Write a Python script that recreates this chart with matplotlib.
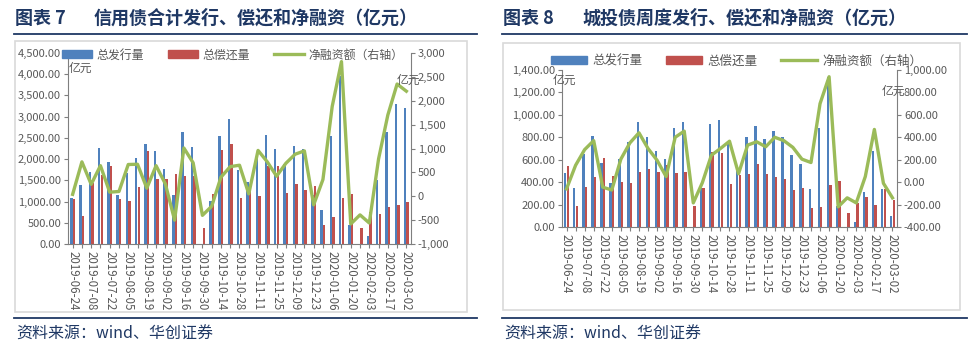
import matplotlib.pyplot as plt
from matplotlib.patches import Rectangle, Patch
from matplotlib.lines import Line2D
from matplotlib.ticker import FuncFormatter
import numpy as np

plt.rcParams['font.family'] = ['Noto Sans CJK SC', 'DejaVu Sans']
plt.rcParams['axes.unicode_minus'] = False

weeks = ['2019-06-24', '2019-07-01', '2019-07-08', '2019-07-15', '2019-07-22', '2019-07-29',
         '2019-08-05', '2019-08-12', '2019-08-19', '2019-08-26', '2019-09-02', '2019-09-09',
         '2019-09-16', '2019-09-23', '2019-09-30', '2019-10-07', '2019-10-14', '2019-10-21',
         '2019-10-28', '2019-11-04', '2019-11-11', '2019-11-18', '2019-11-25', '2019-12-02',
         '2019-12-09', '2019-12-16', '2019-12-23', '2019-12-30', '2020-01-06', '2020-01-13',
         '2020-01-20', '2020-01-27', '2020-02-03', '2020-02-10', '2020-02-17', '2020-02-24',
         '2020-03-02']

# 图表7 信用债
credit_issue = [1090, 1385, 1690, 2260, 1930, 1160, 1670, 2020, 2365, 2180, 1775, 1160, 2640,
                2290, 10, 1010, 2550, 2945, 1735, 1450, 2080, 2560, 2245, 1895, 2310, 2245,
                1150, 810, 2550, 3960, 450, 10, 200, 1510, 2630, 3300, 3200]
credit_repay = [1050, 660, 1440, 1630, 1840, 1050, 1010, 1340, 2200, 1540, 1520, 1650, 1610,
                1600, 375, 1180, 2205, 2350, 1090, 1400, 1120, 1830, 1830, 1195, 1420, 1275,
                1370, 440, 640, 1075, 1170, 375, 756, 717, 860, 910, 990]
credit_net = [40, 720, 250, 640, 85, 100, 665, 670, 170, 640, 260, -500, 1010,
              700, -400, -210, 400, 620, 650, 50, 960, 720, 420, 690, 880, 950,
              -180, 350, 1880, 2820, -580, -390, -560, 780, 1700, 2350, 2200]

# 图表8 城投债
lgfv_issue = [480, 345, 650, 813, 569, 390, 605, 754, 935, 807, 682, 605, 880,
              935, 0, 346, 917, 956, 748, 540, 801, 897, 783, 852, 801, 640,
              560, 342, 884, 1340, 186, 0, 42, 312, 680, 342, 102]
lgfv_repay = [540, 188, 355, 450, 614, 459, 400, 390, 494, 515, 488, 554, 480,
              486, 188, 352, 673, 658, 384, 465, 470, 560, 470, 450, 430, 330,
              350, 165, 177, 372, 410, 126, 210, 270, 200, 342, 240]
lgfv_net = [-60, 150, 290, 370, -45, -70, 205, 350, 440, 300, 195, 50, 400,
            455, -185, -5, 240, 300, 365, 75, 330, 360, 315, 400, 370, 310,
            205, 175, 700, 940, -220, -140, -185, 50, 470, -10, -140]

W, H = 979, 356
BLUE = '#4F81BD'
RED = '#C0504D'
GREEN = '#9BBB59'
NAVY = '#1F3864'
GRAY = '#595959'

fig = plt.figure(figsize=(W / 100, H / 100), dpi=100)


def fx(px):
    return px / W


def fy(py):
    return 1 - py / H


def panel(num, title, box, rule_x, plot, issue, repay, net, ylim_l, ylim_r, fmt_l, fmt_r,
          yt_l, yt_r, leg_xy, leg_opts, unit_l, unit_r):
    # title, rules, frame, source
    fig.text(fx(rule_x[0] + 1), fy(18), num, fontsize=13, fontweight='bold',
             color=NAVY, va='center', ha='left')
    fig.text(fx(rule_x[0] + 80), fy(18), title, fontsize=13, fontweight='bold',
             color=NAVY, va='center', ha='left')
    for yy in (34, 318):
        fig.add_artist(Line2D([fx(rule_x[0]), fx(rule_x[1])], [fy(yy), fy(yy)],
                              color=NAVY, lw=1.3, transform=fig.transFigure))
    bx0, by0, bx1, by1 = box
    fig.add_artist(Rectangle((fx(bx0), fy(by1)), fx(bx1 - bx0), (by1 - by0) / H,
                             transform=fig.transFigure, fill=False, ec='#D9D9D9', lw=1.2))
    fig.text(fx(rule_x[0] + 2), fy(334), '资料来源：wind、华创证券', fontsize=11.5,
             color=NAVY, style='italic', va='center', ha='left')

    px0, py0, px1, py1 = plot
    ax = fig.add_axes([fx(px0), fy(py1), fx(px1 - px0), (py1 - py0) / H])
    x = np.arange(len(weeks))
    ax.bar(x - 0.14, issue, width=0.26, color=BLUE, zorder=2)
    ax.bar(x + 0.14, repay, width=0.26, color=RED, zorder=2)
    ax.set_xlim(-0.5, len(weeks) - 0.5)
    ax.set_ylim(*ylim_l)
    ax.set_yticks(yt_l)
    ax.yaxis.set_major_formatter(FuncFormatter(fmt_l))
    ax.set_xticks(x)
    ax.set_xticklabels([w if i % 2 == 0 else '' for i, w in enumerate(weeks)],
                       rotation=270, fontsize=8.3, color=GRAY)
    ax.tick_params(axis='x', length=3, color='#7F7F7F', pad=2)
    ax.tick_params(axis='y', length=3, color='#7F7F7F', labelsize=8, labelcolor=GRAY, pad=2)
    for s in ('top', 'right'):
        ax.spines[s].set_visible(False)
    ax.spines['left'].set_color('#7F7F7F')
    ax.spines['bottom'].set_color('#7F7F7F')

    ax2 = ax.twinx()
    ax2.plot(x, net, color=GREEN, lw=2.4, zorder=3)
    ax2.set_ylim(*ylim_r)
    ax2.set_yticks(yt_r)
    ax2.yaxis.set_major_formatter(FuncFormatter(fmt_r))
    ax2.tick_params(axis='y', length=3, color='#7F7F7F', labelsize=8, labelcolor=GRAY, pad=2)
    for s in ('top', 'left', 'bottom'):
        ax2.spines[s].set_visible(False)
    ax2.spines['right'].set_color('#7F7F7F')

    handles = [Patch(color=BLUE), Patch(color=RED), Line2D([], [], color=GREEN, lw=2.4)]
    labels = ['总发行量', '总偿还量', '净融资额（右轴）']
    ax2.legend(handles, labels, loc='center left', bbox_to_anchor=(fx(leg_xy[0]), fy(leg_xy[1])),
               bbox_transform=fig.transFigure, ncol=3, frameon=False,
               handleheight=0.6, handletextpad=0.4,
               borderpad=0, borderaxespad=0, labelcolor=GRAY, **leg_opts)

    fig.text(fx(unit_l[0]), fy(unit_l[1]), '亿元', fontsize=8.5, color=GRAY, va='center')
    fig.text(fx(unit_r[0]), fy(unit_r[1]), '亿元', fontsize=8.5, color=GRAY, va='center')


panel('图表 7', '信用债合计发行、偿还和净融资（亿元）', (15, 41, 467, 312), (14, 477),
      (68, 53, 411, 244), credit_issue, credit_repay, credit_net,
      (0, 4500), (-1000, 3000),
      lambda v, p: f'{v:,.2f}', lambda v, p: f'{v:,.0f}',
      np.arange(0, 4501, 500), np.arange(-1000, 3001, 500),
      (62, 55), dict(fontsize=8.6, handlelength=2.5, columnspacing=2.0),
      (69, 68), (397, 80))

panel('图表 8', '城投债周度发行、偿还和净融资（亿元）', (503, 43, 960, 310), (502, 967),
      (562, 70, 897, 227), lgfv_issue, lgfv_repay, lgfv_net,
      (0, 1400), (-400, 1000),
      lambda v, p: f'{v:,.2f}', lambda v, p: f'{v:,.2f}',
      np.arange(0, 1401, 200), np.arange(-400, 1001, 200),
      (551, 61), dict(fontsize=9, handlelength=2.9, columnspacing=1.9),
      (553, 80), (882, 91))

fig.savefig('out.png', dpi=100)
